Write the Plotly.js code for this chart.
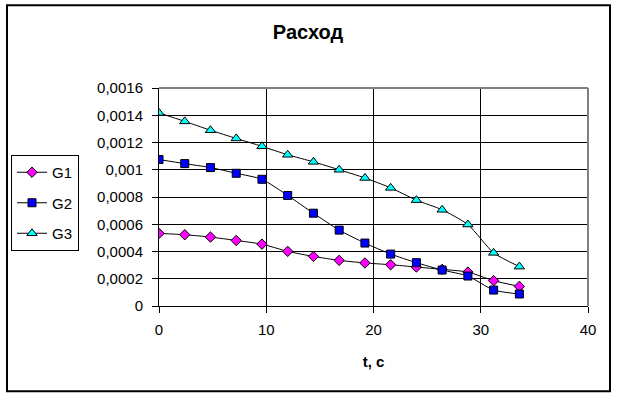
<!DOCTYPE html>
<html>
<head>
<meta charset="utf-8">
<script src="https://cdn.plot.ly/plotly-3.0.1.min.js"></script>
<style>html,body{margin:0;padding:0;background:#fff;}#chart{width:617px;height:399px;}</style>
</head>
<body>
<div id="chart"></div>
<script>
const timeS = [0, 2.4, 4.8, 7.2, 9.6, 12, 14.4, 16.8, 19.2, 21.6, 24, 26.4, 28.8, 31.2, 33.6];
const g1 = [0.000533, 0.000523, 0.000506, 0.000481, 0.000454, 0.000401, 0.000364, 0.000335, 0.000316, 0.000303, 0.000286, 0.000269, 0.000249, 0.000186, 0.000144];
const g2 = [0.001075, 0.001045, 0.001016, 0.000974, 0.00093, 0.000811, 0.000681, 0.000557, 0.000462, 0.000381, 0.000318, 0.000264, 0.00022, 0.000117, 0.000088];
const g3 = [0.001417, 0.001355, 0.00129, 0.00123, 0.001172, 0.00111, 0.001058, 0.001, 0.00094, 0.000867, 0.000777, 0.000706, 0.000598, 0.00039, 0.000289];
const seriesNames = ['G1', 'G2', 'G3'];
const chartTitle = 'Расход';
const xTitle = 't, с';

const FONT = 'Liberation Sans, Arial, sans-serif';
function tr(name, y, symbol, color, size, grp) {
  return {
    x: timeS, y: y, name: name, type: 'scatter', mode: 'lines+markers',
    legendgroup: grp,
    line: {color: '#000', width: 1, shape: 'spline', smoothing: 0.6},
    marker: {symbol: symbol, color: color, size: size, line: {color: '#000', width: 1}}
  };
}
const data = [
  tr(seriesNames[0], g1, 'diamond', '#FF00FF', 8, 'a'),
  tr(seriesNames[1], g2, 'square', '#0000FF', 8, 'b'),
  tr(seriesNames[2], g3, 'triangle-up', '#00FFFF', 9, 'c')
];

const L = 159, R = 588, T = 88, B = 306.5;
const W = 617, H = 399;
function px(x) { return (x - L) / (R - L); }
function py(y) { return (B - y) / (B - T); }

const layout = {
  width: W, height: H,
  paper_bgcolor: '#fff', plot_bgcolor: '#fff',
  separators: ', ',
  font: {family: FONT, size: 15, color: '#000'},
  margin: {l: L, r: W - R, t: T, b: H - B, pad: 0},
  title: {text: '<b>' + chartTitle + '</b>', font: {family: FONT, size: 20, color: '#000'},
          xref: 'container', yref: 'container', x: 308 / W, y: 1 - 32 / H, xanchor: 'center', yanchor: 'middle'},
  xaxis: {
    range: [0, 40], dtick: 10, tick0: 0,
    showgrid: true, gridcolor: '#000', gridwidth: 1,
    showline: true, linecolor: '#000', linewidth: 1,
    ticks: 'outside', ticklen: 6, tickcolor: '#000', ticklabelstandoff: 4,
    zeroline: false,
    tickfont: {family: FONT, size: 15, color: '#000'},
    title: {text: '<b>' + xTitle + '</b>', font: {family: FONT, size: 15, color: '#000'}, standoff: 19}
  },
  yaxis: {
    range: [0, 0.0016], dtick: 0.0002, tick0: 0,
    tickformat: '.4~f',
    showgrid: true, gridcolor: '#000', gridwidth: 1,
    showline: true, linecolor: '#000', linewidth: 1,
    ticks: 'outside', ticklen: 6, tickcolor: '#000', ticklabelstandoff: 6,
    zeroline: false,
    tickfont: {family: FONT, size: 15, color: '#000'}
  },
  showlegend: true,
  legend: {
    xref: 'container', yref: 'container',
    x: 11 / W, y: 1 - 155 / H, xanchor: 'left', yanchor: 'top',
    bordercolor: '#000', borderwidth: 1, bgcolor: '#fff',
    font: {family: FONT, size: 15, color: '#000'},
    tracegroupgap: 8, itemwidth: 30
  },
  shapes: [
    {type: 'line', xref: 'paper', yref: 'paper', x0: 0, x1: 1, y0: 1, y1: 1, line: {color: '#808080', width: 2}, layer: 'above'},
    {type: 'line', xref: 'paper', yref: 'paper', x0: 1, x1: 1, y0: 0, y1: 1, line: {color: '#808080', width: 2}, layer: 'above'},
    {type: 'rect', xref: 'paper', yref: 'paper', x0: px(7), x1: px(610), y0: py(392), y1: py(5), line: {color: '#000', width: 2}, layer: 'above'}
  ]
};

Plotly.newPlot('chart', data, layout, {staticPlot: true, displayModeBar: false});
</script>
</body>
</html>
